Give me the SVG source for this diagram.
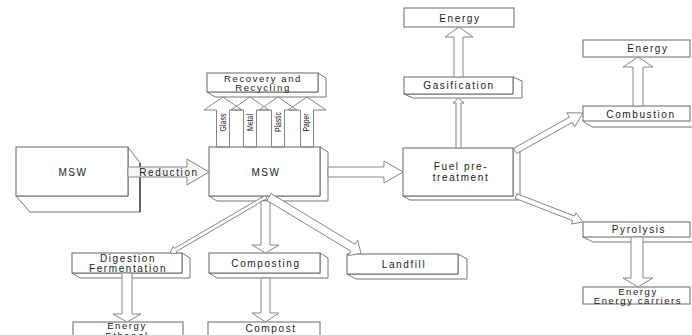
<svg xmlns="http://www.w3.org/2000/svg" width="692" height="335" viewBox="0 0 692 335">
<style>
.f{fill:#fff;stroke:#666;stroke-width:1}
.d{fill:#fff;stroke:#777;stroke-width:1;stroke-linejoin:round}
.k{fill:none;stroke:#222;stroke-width:1.1}
.a{fill:#fff;stroke:#858585;stroke-width:1;stroke-linejoin:miter}
.o{fill:none;stroke:#858585;stroke-width:1}
.t{font-family:"Liberation Sans",Arial,sans-serif;font-size:10px;letter-spacing:1.6px;fill:#1a1a1a;text-anchor:middle}
.s{font-size:9.5px}
.r{font-family:"Liberation Sans",Arial,sans-serif;font-size:9px;fill:#1a1a1a;text-anchor:middle}
</style>
<rect width="692" height="335" fill="#fff"/>

<g id="msw-left">
<path class="d" d="M128,147 L140,163 L140,212 L30,212 L16,196 L128,196 Z"/>
<path class="k" d="M140,163 L140,212"/>
<rect class="f" x="16" y="147" width="112" height="49"/>
<text class="t" x="73" y="175.5">MSW</text>
</g>

<g id="msw-center">
<path class="d" d="M320,147 L328,152 L328,201 L217,201 L209,196 L320,196 Z"/>
<rect class="f" x="209" y="147" width="111" height="49"/>
<text class="t" x="266" y="175.5">MSW</text>
</g>

<g id="recovery">
<path class="d" d="M318,73 L326,78 L326,97 L215,97 L207,92 L318,92 Z"/>
<rect class="f" x="207" y="73" width="111" height="19"/>
<text class="t s" x="263" y="81.5">Recovery and</text>
<text class="t s" x="263" y="91">Recycling</text>
</g>

<g id="fuel">
<path class="d" d="M513,148 L520,152 L520,200 L410,200 L403,196 L513,196 Z"/>
<rect class="f" x="403" y="148" width="110" height="48"/>
<text class="t" x="461" y="169.5">Fuel pre-</text>
<text class="t" x="461" y="180.5">treatment</text>
</g>

<g id="gasification">
<path class="d" d="M513,77 L522,81 L522,98 L413,98 L404,94 L513,94 Z"/>
<rect class="f" x="404" y="77" width="109" height="17"/>
<text class="t" x="459" y="89">Gasification</text>
</g>

<g id="energy-top">
<rect class="f" x="404" y="8" width="110" height="19"/>
<text class="t" x="460" y="21.5">Energy</text>
</g>

<g id="energy-right">
<rect class="f" x="583" y="40" width="107" height="17"/>
<text class="t" x="648" y="52">Energy</text>
</g>

<g id="combustion">
<path class="d" d="M583,121 L592,127 L692,127"/>
<rect class="f" x="583" y="106" width="107" height="15"/>
<text class="t" x="641" y="117.5">Combustion</text>
</g>

<g id="pyrolysis">
<path class="d" d="M583,237 L593,242 L692,242"/>
<rect class="f" x="583" y="222" width="107" height="15"/>
<text class="t" x="639" y="233">Pyrolysis</text>
</g>

<g id="energy-carriers">
<rect class="f" x="583" y="287" width="107" height="17"/>
<text class="t s" x="638" y="294.5">Energy</text>
<text class="t s" x="638" y="303.5">Energy carriers</text>
</g>

<g id="digestion">
<path class="d" d="M182,253 L190,258 L190,278 L80,278 L72,273 L182,273 Z"/>
<rect class="f" x="72" y="253" width="110" height="20"/>
<text class="t" x="128" y="262">Digestion</text>
<text class="t" x="128" y="271.5">Fermentation</text>
</g>

<g id="composting">
<path class="d" d="M320,253 L328,258 L328,278 L217,278 L209,273 L320,273 Z"/>
<rect class="f" x="209" y="253" width="111" height="20"/>
<text class="t" x="266" y="267">Composting</text>
</g>

<g id="landfill">
<path class="d" d="M458,254 L467,259 L467,279 L356,279 L347,274 L458,274 Z"/>
<rect class="f" x="347" y="254" width="111" height="20"/>
<text class="t" x="404" y="268">Landfill</text>
</g>

<g id="energy-ethanol">
<rect class="f" x="73" y="322" width="110" height="20"/>
<text class="t s" x="127" y="329">Energy</text>
<text class="t s" x="127" y="338.5">Ethanol</text>
</g>

<g id="compost">
<rect class="f" x="208" y="322" width="112" height="20"/>
<text class="t" x="271" y="332">Compost</text>
</g>

<g id="connectors">
<polygon class="a" style="fill:#f6f6f6" points="128,167 187,167 187,159 209,172 187,185 187,177 128,177"/>
<text class="t" x="169" y="175.5">Reduction</text>
<polygon class="a" points="328,167 384,167 384,161 403,172 384,183 384,177 328,177"/>
<polygon class="o" points="216.5,147 216.5,110 204,110 223,97 242,110 229.5,110 229.5,147"/>
<polygon class="o" points="243.5,147 243.5,110 231,110 250,97 269,110 256.5,110 256.5,147"/>
<polygon class="o" points="271.5,147 271.5,110 259,110 278,97 297,110 284.5,110 284.5,147"/>
<polygon class="o" points="300.5,147 300.5,110 288,110 307,97 326,110 313.5,110 313.5,147"/>
<text class="r" transform="translate(226,122.5) rotate(-90)" textLength="18" lengthAdjust="spacingAndGlyphs">Glass</text>
<text class="r" transform="translate(252.5,122.5) rotate(-90)" textLength="17" lengthAdjust="spacingAndGlyphs">Metal</text>
<text class="r" transform="translate(280.5,122) rotate(-90)" textLength="20" lengthAdjust="spacingAndGlyphs">Plastic</text>
<text class="r" transform="translate(308.5,122.5) rotate(-90)" textLength="18" lengthAdjust="spacingAndGlyphs">Paper</text>
<polygon class="a" points="456,148 456,103 453,103 458.5,98 464,103 461,103 461,148"/>
<polygon class="a" points="454,77 454,37 445,37 459,27 473,37 463,37 463,77"/>
<polygon class="a" points="513.5,148.4 569.3,117.2 566.9,112.8 583,113 574.7,126.8 572.3,122.4 516.5,153.6"/>
<polygon class="a" points="633,106 633,67 623,67 638,57 653,67 643,67 643,106"/>
<polygon class="a" points="516.9,193.7 574.6,216.1 575.9,212.8 583,222 571.5,224 572.8,220.7 515.1,198.3"/>
<polygon class="a" points="631,237 631,278 623,278 638,287 653,278 643,278 643,237"/>
<polygon class="a" points="265.1,195.4 174.3,248.4 173.2,246.5 170,253 177.2,253.5 176.1,251.6 266.9,198.6"/>
<polygon class="a" points="261,201 261,245 252,245 265.5,253 279,245 270,245 270,201"/>
<polygon class="a" points="266.9,200.4 350.9,251.2 348.3,255.5 361,253.5 357.7,240.1 355.1,244.4 271.1,193.6"/>
<polygon class="a" points="122,273 122,314 113,314 127,322 141,314 132,314 132,273"/>
<polygon class="a" points="261,278 261,313 252,313 265.5,322 279,313 270,313 270,278"/>
</g>
</svg>
